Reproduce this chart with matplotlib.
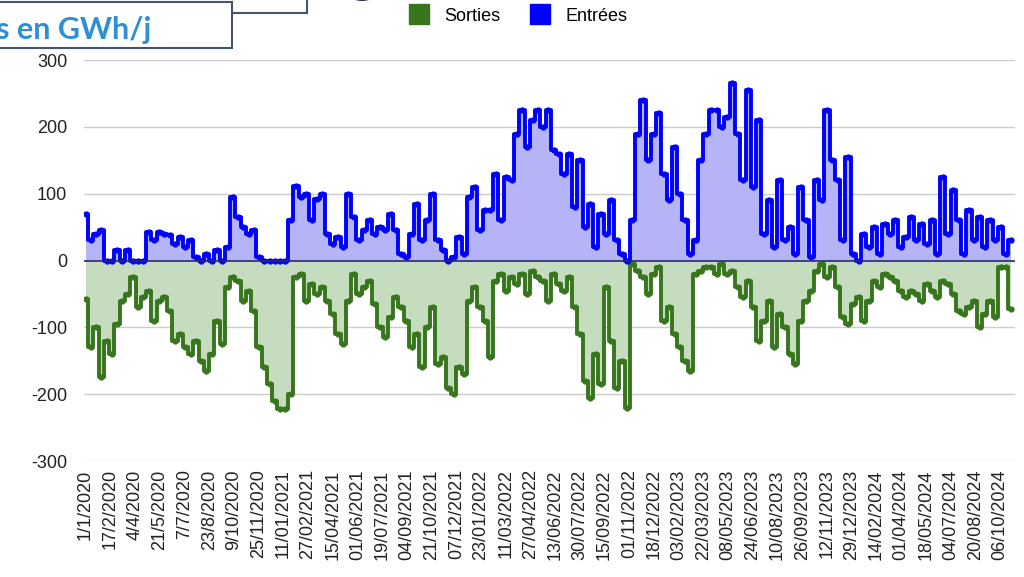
import numpy as np
import matplotlib.pyplot as plt
from matplotlib.patches import Rectangle, Circle
from matplotlib.lines import Line2D

# valeurs, un point tous les 10 jours à partir du 1/1/2020 (GWh/j)
entrees = [
    70, 30, 40, 45, 0, 0, 15, 0, 15, 0,
    0, 0, 42, 30, 42, 40, 38, 25, 35, 20,
    30, 5, 0, 10, 0, 15, 0, 20, 95, 65,
    50, 40, 45, 5, 0, 0, 0, 0, 0, 60,
    112, 95, 100, 60, 92,
    100, 40, 25, 35, 20, 100, 65, 30, 45, 60,
    40, 50, 45, 70, 45, 10, 5, 40, 85, 30,
    60, 100, 30, 15, 0, 5, 35, 10, 95, 110,
    45, 75, 75, 130, 60, 125, 120, 190, 225, 170,
    210, 225, 200, 225,
    165, 160, 130, 160, 80, 150, 50, 85, 20, 70,
    40, 90, 30, 10, 0, 60, 190, 240, 150, 190,
    220, 130, 90, 170, 100, 60, 10, 30, 150, 190,
    225, 225, 200, 215, 265, 190, 120, 255, 110, 210,
    40, 90, 20, 120,
    30, 50, 10, 110, 60, 5, 120, 90, 225, 150,
    120, 30, 155, 10, 0, 40, 20, 50, 10, 55,
    40, 60, 20, 35, 65, 30, 55, 25, 60, 10,
    125, 40, 105, 60, 10, 75, 30, 65, 20, 60,
    30, 50, 10, 30,
]

sorties = [
    -57, -130, -100, -175, -120, -140, -95, -60, -50, -25,
    -70, -55, -45, -90, -60, -55, -75, -120, -110, -130,
    -140, -120, -150, -165, -140, -90, -125, -40, -25, -30,
    -60, -45, -75, -130, -160, -185, -210, -222, -222, -200,
    -25, -20, -60, -35, -50,
    -40, -60, -80, -110, -125, -60, -20, -50, -40, -30,
    -65, -100, -115, -85, -55, -70, -90, -130, -110, -160,
    -100, -70, -155, -145, -190, -200, -160, -170, -60, -40,
    -70, -90, -145, -30, -20, -45, -25, -35, -20, -50,
    -15, -25, -30, -60,
    -20, -35, -45, -25, -70, -110, -180, -205, -140, -185,
    -40, -120, -190, -150, -220, -5, -15, -25, -50, -20,
    -10, -90, -70, -110, -130, -150, -165, -20, -15, -10,
    -10, -20, -5, -20, -15, -40, -55, -30, -70, -120,
    -90, -60, -130, -80,
    -100, -140, -155, -90, -60, -45, -15, -5, -25, -10,
    -40, -85, -95, -65, -55, -90, -60, -30, -40, -20,
    -25, -30, -45, -55, -45, -50, -60, -35, -45, -55,
    -30, -35, -50, -75, -80, -70, -60, -100, -80, -60,
    -85, -10, -10, -72,
]

dates_labels = [
    "1/1/2020", "17/2/2020", "4/4/2020", "21/5/2020", "7/7/2020", "23/8/2020",
    "9/10/2020", "25/11/2020", "11/01/2021", "27/02/2021", "15/04/2021",
    "01/06/2021", "19/07/2021", "04/09/2021", "21/10/2021", "07/12/2021",
    "23/01/2022", "11/03/2022", "27/04/2022", "13/06/2022", "30/07/2022",
    "15/09/2022", "01/11/2022", "18/12/2022", "03/02/2023", "22/03/2023",
    "08/05/2023", "24/06/2023", "10/08/2023", "26/09/2023", "12/11/2023",
    "29/12/2023", "14/02/2024", "01/04/2024", "18/05/2024", "04/07/2024",
    "20/08/2024", "06/10/2024",
]

bleu = "#0000ff"
vert = "#38761d"

plt.rcParams['font.family'] = ['Liberation Sans', 'DejaVu Sans']
plt.rcParams['axes.unicode_minus'] = False

jours = np.arange(len(entrees)) * 10
e = np.array(entrees)
s = np.array(sorties)

fig = plt.figure(figsize=(10.24, 5.77), dpi=100)
ax = fig.add_axes([0.082, 0.201, 0.909, 0.695])

# remplissages
ax.fill_between(jours, 0, e, step='mid', color="#b4b4f6", lw=0)
ax.fill_between(jours, 0, s, step='mid', color="#c6dcbe", lw=0)

ax.plot(jours, s, drawstyle='steps-mid', color=vert, lw=2.8,
        marker='o', ms=3.5, zorder=3)
ax.plot(jours, e, drawstyle='steps-mid', color=bleu, lw=2.8,
        marker='o', ms=3.5, zorder=3)
ax.axhline(0, color="#2a2a6a", lw=1.2, zorder=4)

ax.set_ylim(-300, 300)
ax.set_yticks(np.arange(-300, 301, 100))
ax.set_xlim(-3, 1767)
ax.set_xticks(np.arange(len(dates_labels)) * 47)
ax.set_xticklabels(dates_labels, rotation=90)
ax.tick_params(axis='both', length=0, labelsize=13, colors="#222222")
ax.tick_params(axis='y', pad=12)
ax.tick_params(axis='x', pad=6)
ax.grid(axis='y', color="#cccccc", lw=1)
ax.set_axisbelow(True)
for sp in ax.spines.values():
    sp.set_visible(False)

# légende
poignees = [Line2D([], [], marker='s', ls='', color=vert, ms=14),
            Line2D([], [], marker='s', ls='', color=bleu, ms=14)]
fig.legend(poignees, ["Sorties", "Entrées"], loc='upper center',
           bbox_to_anchor=(0.502, 1.015), ncol=2, frameon=False,
           fontsize=13, handletextpad=0.4, columnspacing=1.2)

# morceaux du cadre de titre de la diapositive
fig.patches.append(Rectangle((-5, 564), 312, 40, transform=None,
                             fill=False, ec="#44546a", lw=1.5))
fig.patches.append(Rectangle((-5, 529), 237, 46, transform=None,
                             fc="white", ec="#44546a", lw=1.5, zorder=5))
fig.patches.append(Circle((362, 600), 24, transform=None,
                          fc="#2b2f5e", ec="none"))
fig.text(-0.004, 0.948, "s en GWh/j", fontsize=22, fontweight='bold',
         color="#2e8fd6", family=['Lato', 'DejaVu Sans'], va='center',
         zorder=6)

fig.savefig("out.png", dpi=100)
